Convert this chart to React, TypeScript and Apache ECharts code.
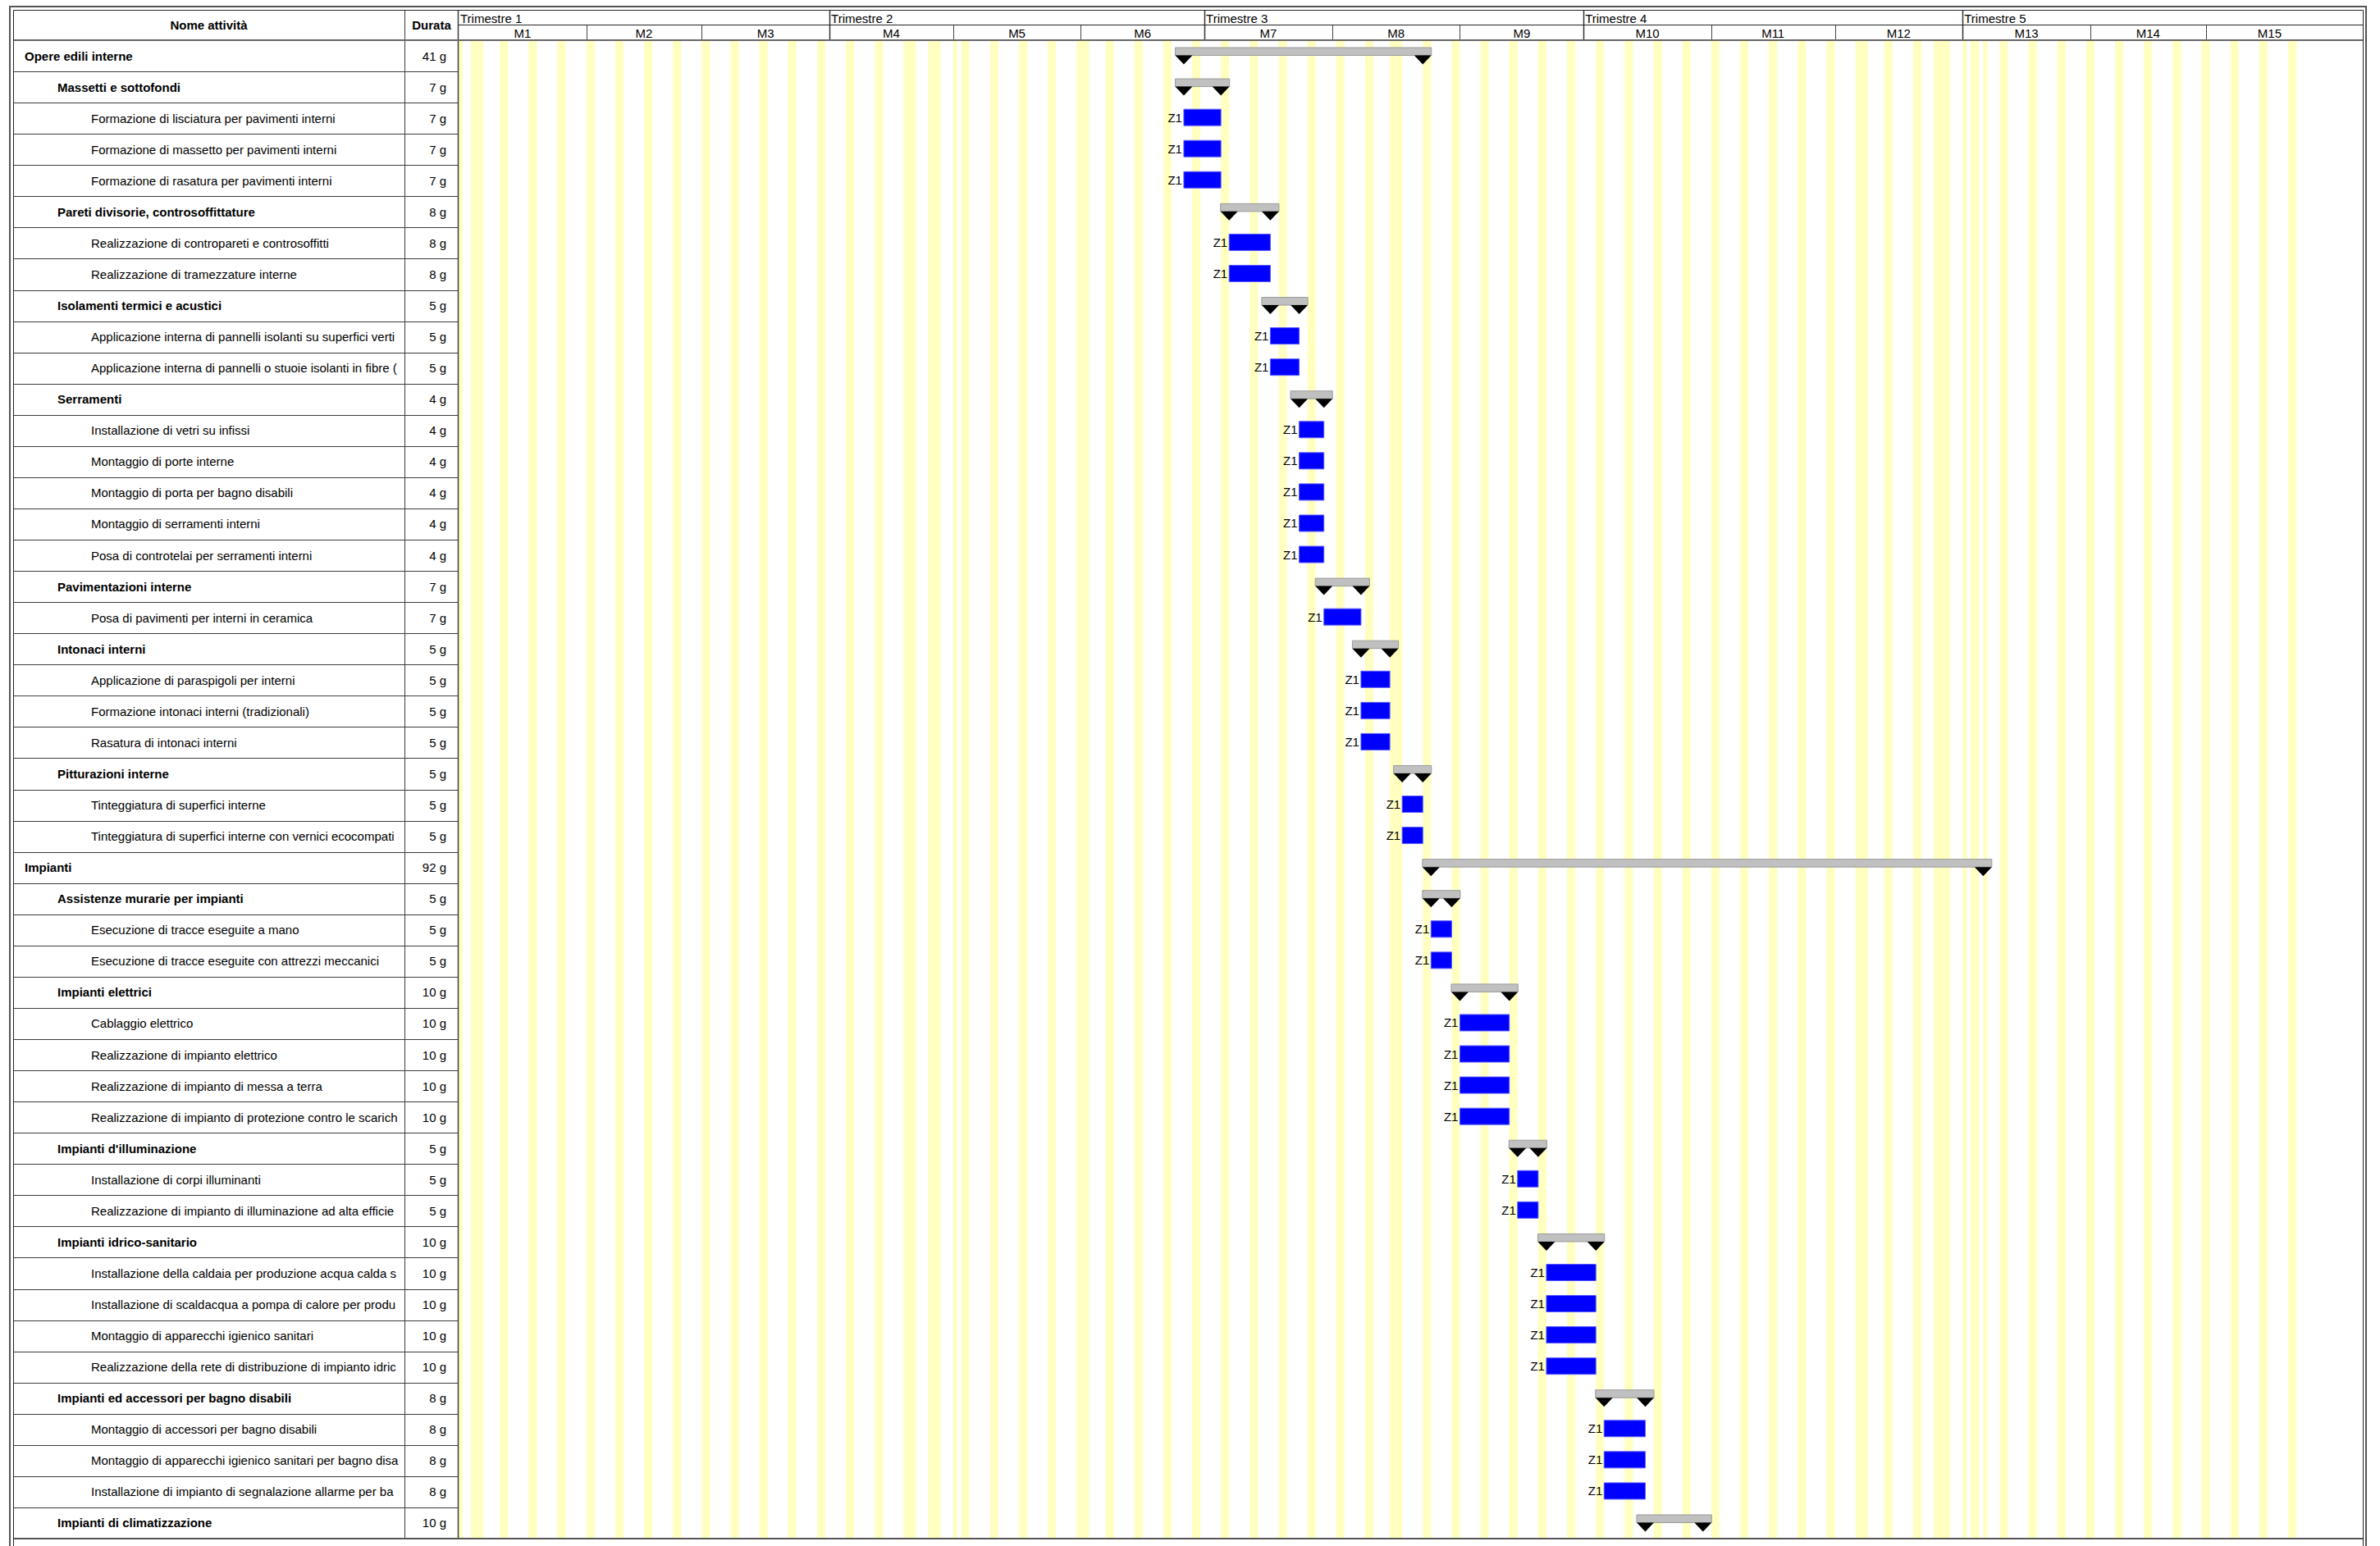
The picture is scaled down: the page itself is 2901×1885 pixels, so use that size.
import React, { useEffect, useRef } from 'react';
import * as echarts from 'echarts';

// ---------------- DATA ----------------
const taskNames = [
  'Opere edili interne',
  'Massetti e sottofondi',
  'Formazione di lisciatura per pavimenti interni',
  'Formazione di massetto per pavimenti interni',
  'Formazione di rasatura per pavimenti interni',
  'Pareti divisorie, controsoffittature',
  'Realizzazione di contropareti e controsoffitti',
  'Realizzazione di tramezzature interne',
  'Isolamenti termici e acustici',
  'Applicazione interna di pannelli isolanti su superfici verticali',
  'Applicazione interna di pannelli o stuoie isolanti in fibre (',
  'Serramenti',
  'Installazione di vetri su infissi',
  'Montaggio di porte interne',
  'Montaggio di porta per bagno disabili',
  'Montaggio di serramenti interni',
  'Posa di controtelai per serramenti interni',
  'Pavimentazioni interne',
  'Posa di pavimenti per interni in ceramica',
  'Intonaci interni',
  'Applicazione di paraspigoli per interni',
  'Formazione intonaci interni (tradizionali)',
  'Rasatura di intonaci interni',
  'Pitturazioni interne',
  'Tinteggiatura di superfici interne',
  'Tinteggiatura di superfici interne con vernici ecocompatibili',
  'Impianti',
  'Assistenze murarie per impianti',
  'Esecuzione di tracce eseguite a mano',
  'Esecuzione di tracce eseguite con attrezzi meccanici',
  'Impianti elettrici',
  'Cablaggio elettrico',
  'Realizzazione di impianto elettrico',
  'Realizzazione di impianto di messa a terra',
  'Realizzazione di impianto di protezione contro le scariche',
  "Impianti d'illuminazione",
  'Installazione di corpi illuminanti',
  'Realizzazione di impianto di illuminazione ad alta efficienza',
  'Impianti idrico-sanitario',
  'Installazione della caldaia per produzione acqua calda sanitaria',
  'Installazione di scaldacqua a pompa di calore per produzione',
  'Montaggio di apparecchi igienico sanitari',
  'Realizzazione della rete di distribuzione di impianto idrico',
  'Impianti ed accessori per bagno disabili',
  'Montaggio di accessori per bagno disabili',
  'Montaggio di apparecchi igienico sanitari per bagno disabili',
  'Installazione di impianto di segnalazione allarme per bagno',
  'Impianti di climatizzazione',
];
const durations = [
  '41 g', '7 g', '7 g', '7 g', '7 g', '8 g', '8 g', '8 g', '5 g', '5 g', '5 g',
  '4 g', '4 g', '4 g', '4 g', '4 g', '4 g', '7 g', '7 g', '5 g', '5 g', '5 g', '5 g',
  '5 g', '5 g', '5 g', '92 g', '5 g', '5 g', '5 g', '10 g', '10 g', '10 g', '10 g', '10 g',
  '5 g', '5 g', '5 g', '10 g', '10 g', '10 g', '10 g', '10 g', '8 g', '8 g', '8 g', '8 g', '10 g',
];
const levels = [
  0, 1, 2, 2, 2, 1, 2, 2, 1, 2, 2, 1, 2, 2, 2, 2, 2, 1, 2, 1, 2, 2, 2, 1, 2, 2,
  0, 1, 2, 2, 1, 2, 2, 2, 2, 1, 2, 2, 1, 2, 2, 2, 2, 1, 2, 2, 2, 1,
];
// day offsets from 1 Jan 2025 (start inclusive, end exclusive)
const startDays = [
  176, 176, 176, 176, 176, 187, 187, 187, 197, 197, 197, 204, 204, 204, 204, 204, 204,
  210, 210, 219, 219, 219, 219, 229, 229, 229, 236, 236, 236, 236, 243, 243, 243, 243, 243,
  257, 257, 257, 264, 264, 264, 264, 264, 278, 278, 278, 278, 288,
];
const endDays = [
  234, 185, 185, 185, 185, 197, 197, 197, 204, 204, 204, 210, 210, 210, 210, 210, 210,
  219, 219, 226, 226, 226, 226, 234, 234, 234, 370, 241, 241, 241, 255, 255, 255, 255, 255,
  262, 262, 262, 276, 276, 276, 276, 276, 288, 288, 288, 288, 302,
];
const resourceLabel = 'Z1';

const monthLabels = ['M1', 'M2', 'M3', 'M4', 'M5', 'M6', 'M7', 'M8', 'M9', 'M10', 'M11', 'M12', 'M13', 'M14', 'M15'];
const monthStarts = [0, 31, 59, 90, 120, 151, 181, 212, 243, 273, 304, 334, 365, 396, 424];
const monthEnds = [31, 59, 90, 120, 151, 181, 212, 243, 273, 304, 334, 365, 396, 424, 455];
const quarterLabels = ['Trimestre 1', 'Trimestre 2', 'Trimestre 3', 'Trimestre 4', 'Trimestre 5'];
const quarterStarts = [0, 90, 181, 273, 365];

const holidays = [
  '2025-01-01', '2025-01-06', '2025-04-21', '2025-04-25', '2025-05-01', '2025-06-02',
  '2025-08-15', '2025-12-08', '2025-12-25', '2025-12-26', '2026-01-01', '2026-01-06',
];
const calendarStart = [2025, 0, 1];
const calendarShownDays = 450;

// ---------------- LAYOUT ----------------
const FONT = '"Liberation Sans", Arial, sans-serif';
const L = {
  frameL: 12, frameT: 8, frameR: 2884,
  innerL: 16, innerT: 12, innerR: 2880,
  nameRight: 493, tableRight: 559,
  headerMid: 30, headerBottom: 49, bottom: 1876,
};
const PX_PER_DAY = 5.0225;
const XMAX = (L.innerR - L.tableRight) / PX_PER_DAY;

function nonWorkingRanges(): number[][] {
  const hol = new Set(holidays);
  const ranges: number[][] = [];
  let cur: number[] | null = null;
  for (let d = 0; d < calendarShownDays; d++) {
    const dt = new Date(Date.UTC(calendarStart[0], calendarStart[1], calendarStart[2] + d));
    const dow = dt.getUTCDay();
    const iso = dt.toISOString().slice(0, 10);
    const off = dow === 0 || dow === 6 || hol.has(iso);
    if (off) {
      if (cur && cur[1] === d) cur[1] = d + 1;
      else { cur = [d, d + 1]; ranges.push(cur); }
    }
  }
  return ranges;
}

const App: React.FC = () => {
  const ref = useRef<HTMLDivElement>(null);
  useEffect(() => {
    document.body.style.margin = '0';
    if (!ref.current) return;
    const chart = echarts.init(ref.current, null, { renderer: 'svg' });
    const stripes = nonWorkingRanges().map((r) => [r[0], r[1], 0]);
    const rowsData = taskNames.map((_, i) => [0, i]);
    const summaryData: number[][] = [];
    const taskData: number[][] = [];
    levels.forEach((lv, i) => {
      if (lv < 2) summaryData.push([startDays[i], endDays[i], i]);
      else taskData.push([startDays[i], endDays[i], i]);
    });
    const monthData = monthLabels.map((_, i) => [monthStarts[i], monthEnds[i], i]);
    const quarterData = quarterLabels.map((_, i) => [quarterStarts[i], quarterStarts[i], i]);
    const lineCol = '#3c3c3c';

    const option: any = {
      animation: false,
      grid: {
        left: L.tableRight, top: L.headerBottom,
        width: L.innerR - L.tableRight, height: L.bottom - L.headerBottom,
        containLabel: false, show: false,
      },
      xAxis: { type: 'value', min: 0, max: XMAX, show: false },
      yAxis: {
        type: 'category', inverse: true, show: false,
        data: taskNames.map((_, i) => String(i)),
      },
      graphic: [
        { type: 'rect', shape: { x: L.frameL, y: L.frameT, width: L.frameR - L.frameL, height: 1900 }, style: { fill: 'none', stroke: '#555', lineWidth: 2 }, z: 100 },
        { type: 'rect', shape: { x: L.innerL + 0.5, y: L.innerT + 0.5, width: L.innerR - L.innerL, height: 1900 }, style: { fill: 'none', stroke: '#222', lineWidth: 1 }, z: 100 },
        { type: 'line', shape: { x1: L.nameRight + 0.5, y1: L.innerT, x2: L.nameRight + 0.5, y2: L.bottom }, style: { stroke: lineCol, lineWidth: 1 }, z: 50 },
        { type: 'line', shape: { x1: L.tableRight - 0.5, y1: L.innerT, x2: L.tableRight - 0.5, y2: L.bottom }, style: { stroke: lineCol, lineWidth: 1.5 }, z: 50 },
        { type: 'line', shape: { x1: L.tableRight, y1: L.headerMid + 0.5, x2: L.innerR, y2: L.headerMid + 0.5 }, style: { stroke: '#222', lineWidth: 1 }, z: 50 },
        { type: 'line', shape: { x1: L.innerL, y1: L.headerBottom, x2: L.innerR, y2: L.headerBottom }, style: { stroke: '#666', lineWidth: 2 }, z: 50 },
        { type: 'line', shape: { x1: L.innerL, y1: L.bottom, x2: L.innerR, y2: L.bottom }, style: { stroke: '#555', lineWidth: 2 }, z: 50 },
        { type: 'text', x: (L.innerL + L.nameRight) / 2, y: (L.innerT + L.headerBottom) / 2, style: { text: 'Nome attività', fontFamily: FONT, fontSize: 15, fontWeight: 'bold', fill: '#000', align: 'center', verticalAlign: 'middle' }, z: 60 },
        { type: 'text', x: (L.nameRight + L.tableRight) / 2, y: (L.innerT + L.headerBottom) / 2, style: { text: 'Durata', fontFamily: FONT, fontSize: 15, fontWeight: 'bold', fill: '#000', align: 'center', verticalAlign: 'middle' }, z: 60 },
      ],
      series: [
        {
          type: 'custom', name: 'nonworking', clip: false, z: 1,
          encode: { x: [0, 1], y: 2 },
          data: stripes,
          renderItem: (params: any, api: any) => {
            const x0 = api.coord([api.value(0), 0])[0];
            const x1 = api.coord([api.value(1), 0])[0];
            const cs = params.coordSys;
            return { type: 'rect', shape: { x: x0, y: cs.y, width: x1 - x0, height: cs.height }, style: { fill: '#ffffbf' } };
          },
        },
        {
          type: 'custom', name: 'table', clip: false, z: 5,
          encode: { x: 0, y: 1 },
          data: rowsData,
          renderItem: (params: any, api: any) => {
            const idx = api.value(1);
            const cy = api.coord([0, idx])[1];
            const h = api.size([0, 1])[1];
            const lv = levels[idx];
            const tx = [30, 70, 111][lv];
            const yl = Math.round(cy + h / 2) + 0.5;
            return {
              type: 'group',
              children: [
                { type: 'text', x: tx, y: cy, style: { text: taskNames[idx], fontFamily: FONT, fontSize: 15, fontWeight: lv < 2 ? 'bold' : 'normal', fill: '#000', align: 'left', verticalAlign: 'middle', width: 489 - tx, overflow: 'truncate', ellipsis: '' } },
                { type: 'text', x: 544, y: cy, style: { text: durations[idx], fontFamily: FONT, fontSize: 15, fill: '#000', align: 'right', verticalAlign: 'middle' } },
                { type: 'line', shape: { x1: L.innerL, y1: yl, x2: L.tableRight, y2: yl }, style: { stroke: lineCol, lineWidth: 1 } },
              ],
            };
          },
        },
        {
          type: 'custom', name: 'summary', clip: false, z: 10,
          encode: { x: [0, 1], y: 2 },
          data: summaryData,
          renderItem: (params: any, api: any) => {
            const p0 = api.coord([api.value(0), api.value(2)]);
            const p1 = api.coord([api.value(1), api.value(2)]);
            const cy = p0[1];
            const tri = (x: number) => ({ type: 'polygon', shape: { points: [[x - 10.5, cy - 0.5], [x + 10.5, cy - 0.5], [x, cy + 10.5]] }, style: { fill: '#000' } });
            return {
              type: 'group',
              children: [
                { type: 'rect', shape: { x: p0[0] - 10.5, y: cy - 10, width: p1[0] - p0[0] + 21, height: 9.5 }, style: { fill: '#c0c0c0', stroke: '#9a9a9a', lineWidth: 1 } },
                tri(p0[0]),
                tri(p1[0]),
              ],
            };
          },
        },
        {
          type: 'custom', name: 'tasks', clip: false, z: 10,
          encode: { x: [0, 1], y: 2 },
          data: taskData,
          renderItem: (params: any, api: any) => {
            const p0 = api.coord([api.value(0), api.value(2)]);
            const p1 = api.coord([api.value(1), api.value(2)]);
            const cy = p0[1];
            return {
              type: 'group',
              children: [
                { type: 'rect', shape: { x: p0[0], y: cy - 11, width: p1[0] - p0[0], height: 20 }, style: { fill: '#0000ff', stroke: '#5a5aff', lineWidth: 1 } },
                { type: 'text', x: p0[0] - 2, y: cy - 1, style: { text: resourceLabel, fontFamily: FONT, fontSize: 15, fill: '#000', align: 'right', verticalAlign: 'middle' } },
              ],
            };
          },
        },
        {
          type: 'custom', name: 'months', clip: false, z: 20,
          encode: { x: [0, 1], y: 2 },
          data: monthData,
          renderItem: (params: any, api: any) => {
            const i = api.value(2);
            const x0 = api.coord([api.value(0), 0])[0];
            const x1 = api.coord([api.value(1), 0])[0];
            const xl = Math.round(x0) + 0.5;
            const children: any[] = [
              { type: 'text', x: (x0 + x1) / 2, y: (L.headerMid + L.headerBottom) / 2 + 1, style: { text: monthLabels[i], fontFamily: FONT, fontSize: 15, fill: '#000', align: 'center', verticalAlign: 'middle' } },
            ];
            if (i > 0) children.push({ type: 'line', shape: { x1: xl, y1: L.headerMid, x2: xl, y2: L.headerBottom }, style: { stroke: '#444', lineWidth: 1 } });
            return { type: 'group', children };
          },
        },
        {
          type: 'custom', name: 'quarters', clip: false, z: 20,
          encode: { x: [0, 1], y: 2 },
          data: quarterData,
          renderItem: (params: any, api: any) => {
            const i = api.value(2);
            const x0 = api.coord([api.value(0), 0])[0];
            const xl = Math.round(x0) + 0.5;
            const children: any[] = [
              { type: 'text', x: x0 + 2, y: (L.innerT + L.headerMid) / 2 + 1, style: { text: quarterLabels[i], fontFamily: FONT, fontSize: 15, fill: '#000', align: 'left', verticalAlign: 'middle' } },
            ];
            if (i > 0) children.push({ type: 'line', shape: { x1: xl, y1: L.innerT, x2: xl, y2: L.headerBottom }, style: { stroke: '#333', lineWidth: 1.5 } });
            return { type: 'group', children };
          },
        },
      ],
    };
    chart.setOption(option);
    return () => chart.dispose();
  }, []);
  return <div ref={ref} style={{ position: 'fixed', left: 0, top: 0, width: 2901, height: 1885, background: '#fff' }} />;
};

export default App;
